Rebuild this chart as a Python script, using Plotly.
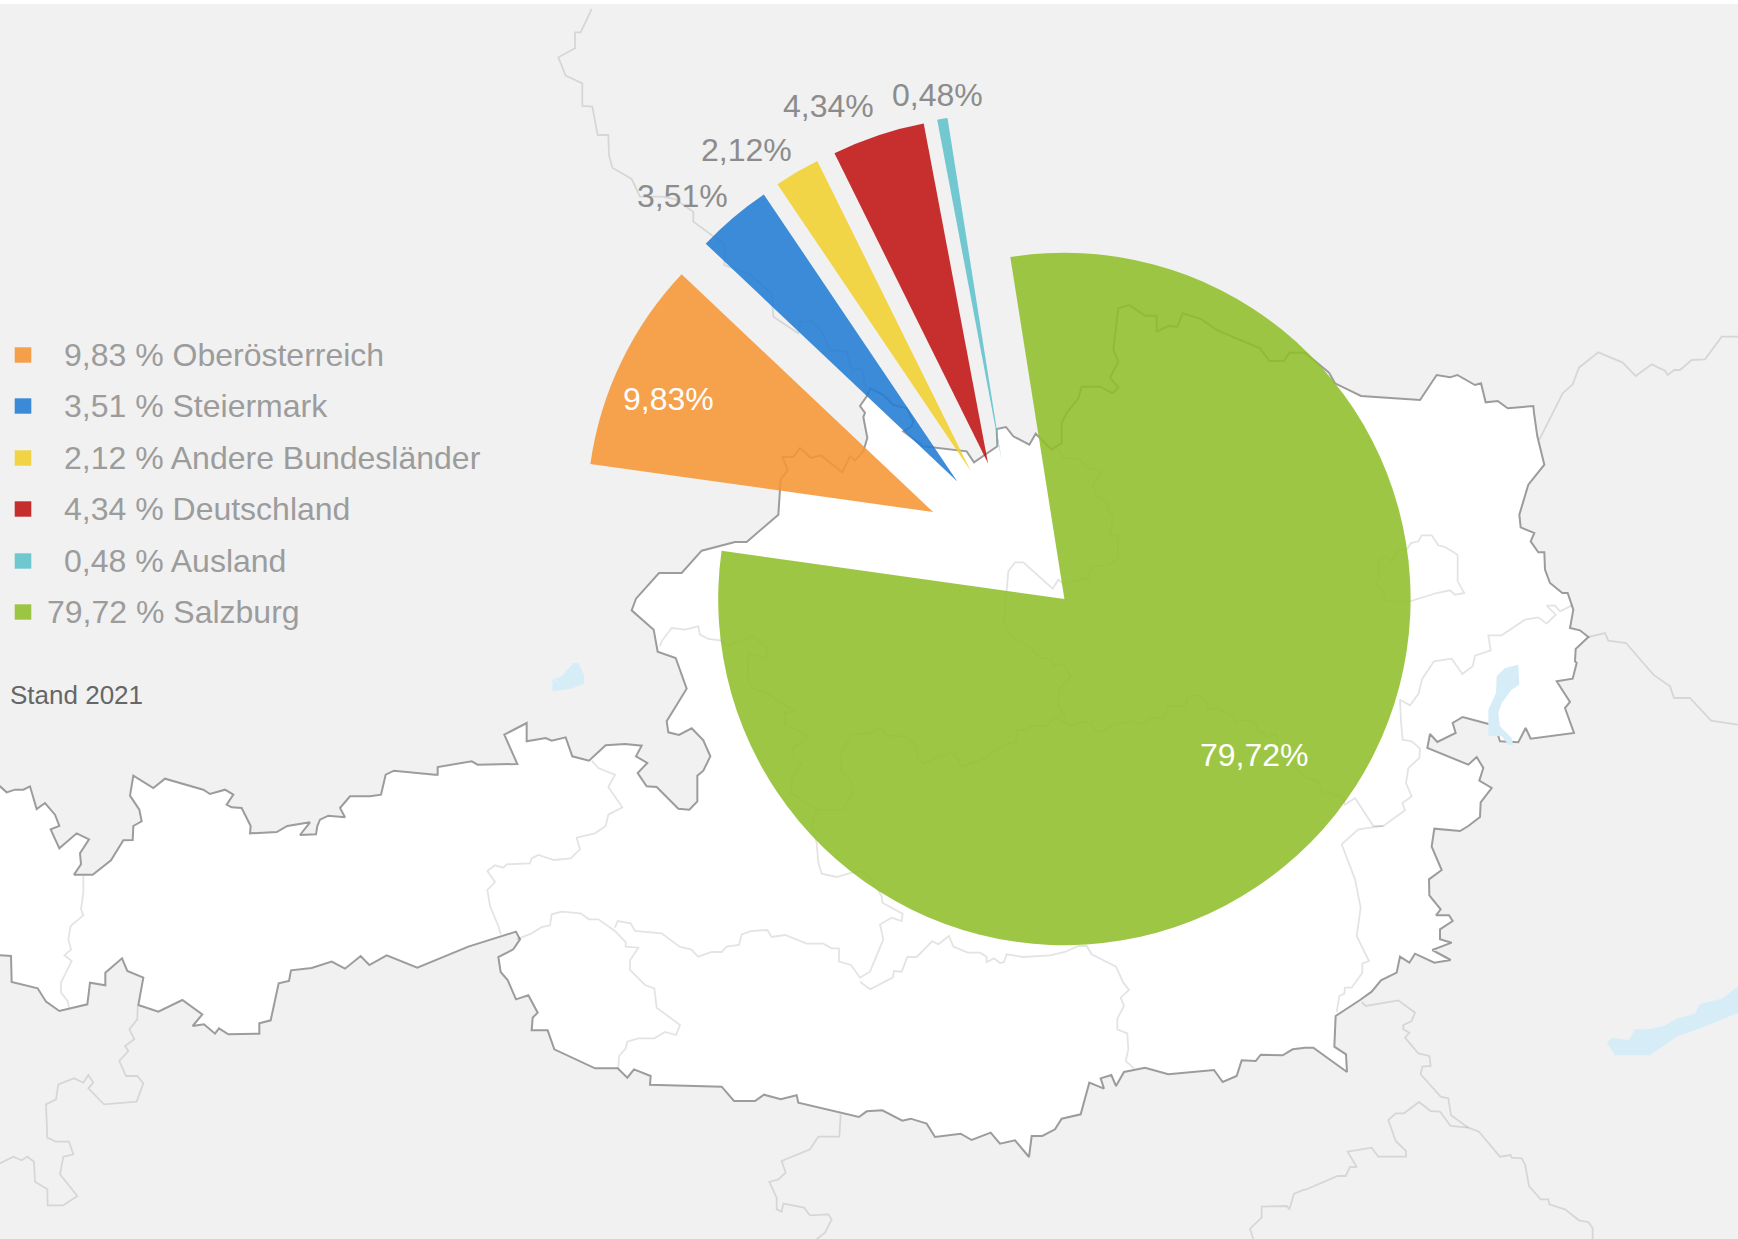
import plotly.graph_objects as go

# ---------- chart data ----------
CATEGORIES = ["Oberösterreich", "Steiermark", "Andere Bundesländer", "Deutschland", "Ausland", "Salzburg"]
VALUES = [9.83, 3.51, 2.12, 4.34, 0.48, 79.72]
COLORS = ["#f59f4a", "#3b8ad8", "#f0d446", "#c62e2e", "#6fc7d0", "#9dc544"]
PIE_COLORS = ["rgba(246,149,51,0.88)", "rgba(34,124,212,0.88)", "rgba(240,208,46,0.88)",
              "rgba(192,19,19,0.88)", "rgba(94,193,203,0.88)", "rgba(143,190,43,0.88)"]
NOTE = "Stand 2021"

# ---------- layout constants ----------
W, H = 1738, 1239
RADIUS = 346.2
START_ANGLE = 278.0
# centre of every exploded slice, in page pixels
SLICE_CENTRES = [(933.2, 512.1), (957.3, 481.5), (970.9, 471.3), (988.1, 463.6), (1001.6, 460.0), (1064.4, 599.0)]
LABEL_POS = [(668.5, 398.5), (682.5, 195.5), (746, 149.5), (828, 105.5), (937, 94.5), (1254, 755)]
LABEL_COL = ["#ffffff", "#8c8c8c", "#8c8c8c", "#8c8c8c", "#8c8c8c", "#ffffff"]
LEGEND_Y = [355, 406, 458, 509, 561, 612]
LEGEND_X = [62.3, 62.3, 62.3, 62.3, 62.3, 44.6]
FONT = "Liberation Sans"


def T(ox, oy, pts):
    """Map contour points traced on 3x crops -> page pixels."""
    return [(ox + x / 3, oy + y / 3) for x, y in pts]


# ---------- background map contours ----------
OUTLINE = (
    [(-6, 786)]
    + T(0, 413, [(0, 1120), (20, 1138), (45, 1130), (70, 1130), (90, 1120), (110, 1188), (135, 1170), (165, 1205), (178, 1239)])
    + T(0, 826, [(152, 10), (178, 67), (230, 22), (267, 40), (240, 82), (243, 115), (222, 146), (278, 146), (333, 103), (370, 43), (398, 42), (400, 0)])
    + T(0, 413, [(425, 1225), (418, 1190), (390, 1148), (400, 1088), (460, 1125), (495, 1097), (610, 1130), (630, 1143), (675, 1130), (700, 1145), (680, 1175), (695, 1183), (725, 1185), (752, 1239)])
    + T(0, 826, [(750, 22), (830, 18), (862, 0)])
    + T(0, 413, [(930, 1228)])
    + T(0, 826, [(900, 27), (948, 25), (952, 0)])
    + T(0, 413, [(960, 1220), (985, 1208), (1035, 1213), (1020, 1185), (1050, 1150), (1110, 1150), (1143, 1145), (1157, 1085), (1182, 1073), (1305, 1085)])
    + T(435, 413, [(8, 1085), (8, 1062), (110, 1045), (128, 1055), (247, 1053), (208, 965), (275, 930), (275, 985), (332, 975), (350, 983), (392, 973), (412, 1030), (462, 1043), (512, 997), (570, 993), (620, 998), (603, 1030), (637, 1050), (608, 1080), (635, 1120), (665, 1122), (730, 1187), (763, 1190), (787, 1165), (787, 1088), (805, 1073), (826, 1030), (805, 982), (770, 946), (732, 966), (700, 958), (695, 925), (755, 827), (722, 735), (668, 716), (656, 650), (590, 592), (603, 557), (672, 480), (740, 480), (800, 413), (900, 387), (935, 387), (1030, 305), (1037, 200), (1058, 172), (1043, 132), (1075, 132), (1095, 105), (1128, 135), (1157, 127), (1222, 178), (1245, 130), (1260, 142), (1285, 115), (1297, 75), (1285, 12), (1290, 0)])
    + T(435, 0, [(1275, 1218), (1298, 1185)])
    + T(870, 0, [(0, 1165), (40, 1185), (70, 1215), (110, 1225)])
    + T(870, 413, [(130, 25), (125, 40), (100, 55), (160, 100), (290, 115), (312, 148), (382, 100), (380, 48), (408, 42), (430, 70), (478, 95), (497, 62), (545, 110), (575, 90), (575, 30), (590, 0)])
    + T(870, 0, [(625, 1195), (635, 1160), (690, 1160), (728, 1180), (745, 1163), (720, 1133), (745, 1085), (730, 1050), (745, 925), (778, 915), (825, 947), (860, 947), (860, 995), (895, 978), (922, 980), (938, 940), (995, 958), (1040, 990), (1170, 1045), (1198, 1083), (1242, 1083), (1258, 1058), (1305, 1058)])
    + T(1305, 0, [(72, 1118), (90, 1150), (168, 1188), (345, 1200), (395, 1125), (435, 1132), (457, 1125), (510, 1155), (528, 1150), (542, 1207), (578, 1203), (608, 1225), (685, 1218), (687, 1239)])
    + T(1305, 413, [(697, 70), (718, 155), (670, 215), (650, 280), (643, 305), (647, 343), (688, 360), (677, 385), (700, 418), (718, 418), (720, 470), (735, 510), (772, 540), (788, 540), (805, 590), (795, 645), (825, 652), (850, 672), (812, 708), (810, 745), (815, 750), (803, 797), (755, 805), (795, 867), (780, 885), (807, 960), (677, 977), (662, 945), (640, 988), (585, 985), (570, 938), (473, 912), (443, 930), (452, 960), (397, 987), (375, 963), (367, 1005), (490, 1055), (515, 1032), (535, 1065), (523, 1103), (560, 1125), (527, 1168), (525, 1212), (490, 1239)])
    + T(1305, 826, [(465, 15), (388, 8), (380, 62), (410, 132), (372, 160), (373, 208), (407, 250), (393, 268), (432, 268), (443, 285), (405, 310), (405, 340), (440, 350), (382, 372), (437, 402), (388, 410), (330, 383), (313, 410), (285, 392), (275, 440), (228, 463), (200, 497), (165, 522), (92, 570), (88, 662), (123, 685), (126, 738), (25, 665), (0, 665)])
    + T(870, 826, [(1268, 670), (1238, 688), (1172, 686), (1157, 705), (1115, 703), (1100, 750), (1058, 768), (1032, 732), (895, 745), (825, 725), (762, 738), (738, 780), (724, 747), (692, 757), (702, 788), (658, 770), (632, 865), (575, 878), (555, 910), (517, 930), (485, 930), (477, 993), (435, 943), (390, 953), (362, 920), (305, 942), (272, 923), (195, 933), (170, 893), (122, 878), (97, 884), (37, 853), (0, 856)])
    + T(435, 826, [(1295, 856), (1272, 873), (1090, 830), (1085, 808), (1037, 820), (987, 806), (960, 825), (897, 825), (860, 782), (645, 776), (647, 750), (597, 730), (577, 755), (548, 727), (480, 727), (358, 670), (338, 613), (290, 613), (293, 575), (308, 560), (280, 508), (243, 520), (218, 462), (197, 438), (190, 393), (235, 370), (255, 340), (243, 317), (100, 362), (0, 403)])
    + T(0, 826, [(1252, 425), (1160, 388), (1108, 417), (1082, 390), (1035, 428), (995, 407), (935, 426), (873, 433), (867, 465), (836, 472), (812, 583), (778, 592), (778, 623), (685, 625), (657, 607), (645, 623), (612, 595), (578, 600), (607, 565), (547, 522), (475, 557), (415, 537), (430, 455), (382, 435), (366, 397), (316, 440), (316, 478), (270, 470), (262, 535), (178, 555), (138, 527), (113, 487), (35, 468), (33, 390), (0, 387)])
    + [(-6, 955), (-6, 786)]
)

THIN_LINES = [
    # outside Austria
    T(435, 0, [(470, 27), (437, 97), (420, 97), (420, 145), (370, 172), (392, 227), (442, 250), (442, 318), (472, 320), (488, 405), (520, 405), (522, 465), (532, 503), (590, 537), (615, 590), (680, 590), (720, 597), (775, 635), (775, 665), (870, 735), (868, 795), (940, 820), (1010, 880), (1015, 950), (1090, 1000), (1097, 965), (1130, 965), (1160, 995), (1185, 1050), (1235, 1055), (1250, 1110), (1280, 1105), (1295, 1180)]),
    T(1305, 0, [(1299, 1010), (1250, 1010), (1200, 1078), (1160, 1080), (1125, 1110), (1108, 1110), (1088, 1125), (1080, 1112), (1040, 1093), (992, 1128), (952, 1087), (880, 1057), (822, 1103), (803, 1153), (773, 1180), (743, 1239), (703, 1319)]),
    T(1305, 413, [(850, 672), (900, 660), (910, 683), (963, 690), (1045, 785), (1095, 820), (1107, 855), (1155, 855), (1218, 923), (1299, 935)]),
    T(0, 826, [(413, 540), (412, 580), (388, 610), (403, 640), (375, 660), (385, 675), (358, 705), (378, 750), (412, 750), (430, 772), (410, 827), (312, 835), (265, 787), (280, 770), (265, 747), (250, 770), (222, 757), (175, 775), (168, 820), (138, 835), (142, 935), (167, 947), (207, 947), (220, 985), (190, 992), (180, 1045), (232, 1110), (190, 1138), (143, 1138), (142, 1090), (105, 1067), (102, 1007), (82, 992), (65, 1003), (40, 992), (0, 1012)]),
    T(435, 826, [(1217, 865), (1213, 932), (1150, 932), (1125, 970), (1040, 1005), (1052, 1040), (1030, 1060), (1003, 1068), (1025, 1115), (1025, 1150), (1040, 1157), (1045, 1133), (1107, 1145), (1125, 1168), (1180, 1165), (1190, 1180), (1170, 1220), (1145, 1239)]),
    T(1305, 826, [(170, 528), (182, 540), (280, 523), (330, 560), (320, 585), (295, 597), (295, 610), (313, 620), (300, 635), (340, 682), (373, 690), (377, 720), (352, 722), (347, 745), (407, 812), (430, 817), (438, 868), (490, 905), (522, 917), (585, 992), (617, 987), (620, 995), (650, 997), (660, 1015), (672, 1080), (707, 1120), (730, 1120), (733, 1135), (780, 1150), (822, 1183), (850, 1188), (863, 1207), (863, 1239)]),
    T(1305, 826, [(490, 905), (437, 900), (405, 857), (377, 855), (342, 828), (297, 862), (272, 862), (250, 882), (272, 945), (303, 975), (303, 992), (220, 992), (200, 965), (128, 977), (155, 1023), (135, 1023), (122, 1050), (98, 1050), (0, 1092)]),
    T(870, 826, [(1305, 1090), (1272, 1103), (1258, 1150), (1250, 1140), (1175, 1142), (1175, 1175), (1140, 1208), (1150, 1239)]),
    # provinces
    T(0, 826, [(250, 150), (250, 200), (243, 250), (250, 268), (212, 300), (205, 340), (213, 370), (193, 388), (215, 405), (183, 470), (183, 500), (203, 525), (207, 545)]),
    T(1305, 413, [(458, 425), (420, 402), (400, 397), (380, 367), (350, 367), (340, 385), (318, 390), (305, 410), (280, 410), (260, 445), (240, 430), (222, 440), (222, 490), (212, 515), (235, 528), (240, 560), (250, 565), (315, 565), (395, 540), (435, 532), (450, 545), (478, 540), (458, 505), (458, 425)]),
    T(1305, 413, [(800, 578), (765, 595), (750, 578), (725, 578), (752, 605), (725, 632), (700, 613), (660, 620), (590, 667), (550, 667), (557, 712), (510, 728), (503, 760), (472, 783), (440, 737), (387, 745), (352, 797), (340, 843), (315, 877), (285, 860), (288, 925), (293, 980), (320, 985), (345, 1007), (343, 1035), (310, 1065), (303, 1110), (320, 1150), (292, 1170), (300, 1192), (235, 1239)])
    + T(1305, 826, [(160, 10), (110, 55), (150, 160), (167, 245), (155, 330), (192, 405), (172, 412), (172, 440), (140, 485), (120, 485), (118, 503), (103, 510), (95, 558)]),
    T(1305, 413, [(0, 1095), (40, 1105), (50, 1135), (110, 1150), (120, 1175), (150, 1155), (205, 1239), (235, 1239)]),
    T(435, 413, [(470, 1043), (490, 1065), (540, 1085), (520, 1122), (562, 1183), (520, 1205), (512, 1239)])
    + T(435, 826, [(480, 22), (425, 35), (435, 70), (407, 97), (357, 102), (310, 87), (290, 97), (285, 112), (215, 115), (205, 125), (180, 118), (157, 135), (180, 168), (157, 192), (165, 240), (190, 300), (197, 325)]),
    T(435, 826, [(245, 340), (290, 322), (320, 303), (345, 298), (350, 265), (380, 257), (437, 262), (462, 280), (490, 280), (540, 315), (572, 348), (572, 362), (610, 365), (585, 403), (585, 432), (630, 477), (658, 487), (665, 545), (735, 597), (723, 627), (690, 618), (658, 637), (610, 637), (577, 647), (572, 668), (552, 690), (550, 727)]),
    T(435, 826, [(540, 305), (548, 285), (587, 292), (600, 315), (680, 322), (735, 363), (768, 370), (790, 392), (830, 378), (860, 378), (875, 362), (912, 357), (920, 325), (950, 315), (997, 312), (1010, 333), (1050, 327), (1115, 353), (1165, 353), (1190, 367), (1212, 367), (1212, 407), (1248, 417), (1275, 455), (1305, 437), (1345, 340), (1335, 295), (1370, 275), (1400, 285), (1403, 263), (1342, 230), (1340, 210)]),
    T(870, 826, [(0, 490), (68, 455), (72, 435), (95, 437), (112, 393), (140, 393), (187, 345), (205, 355), (237, 330), (250, 362), (293, 380), (330, 380), (350, 392), (350, 408), (372, 397), (390, 411), (402, 408), (410, 385), (460, 393), (540, 388), (585, 378), (625, 360), (650, 360), (665, 385), (738, 422), (760, 470), (777, 492), (752, 515), (762, 540), (742, 578), (742, 610), (772, 622), (775, 670), (767, 705), (792, 727)]),
    T(435, 826, [(1275, 467), (1305, 490)]),
    T(435, 413, [(675, 700), (680, 685), (710, 645), (750, 650), (790, 640), (795, 665), (820, 678), (860, 683), (875, 700), (955, 668), (997, 707), (992, 737), (940, 720), (940, 795), (950, 825), (995, 840), (1080, 897), (1050, 897), (1050, 933), (1115, 965), (1110, 985), (1075, 1000), (1075, 1035), (1100, 1053), (1070, 1100), (1068, 1140), (1145, 1190), (1225, 1190), (1250, 1145), (1250, 1105), (1220, 1075), (1215, 1030), (1250, 965), (1305, 960)])
    + T(870, 413, [(35, 945), (50, 968), (105, 970), (140, 1000), (145, 1040), (158, 1052), (240, 1020), (258, 1030), (275, 1062), (345, 1035), (370, 1015), (415, 990), (437, 988), (442, 950), (470, 952), (480, 940), (530, 938), (555, 912), (590, 930), (603, 938), (645, 925), (665, 933), (675, 955), (700, 955), (735, 932), (760, 932), (785, 920), (800, 932), (825, 930), (840, 912), (880, 918), (895, 880), (945, 878), (955, 848), (985, 848), (1005, 865), (1015, 890), (1040, 883), (1090, 910), (1097, 930), (1115, 920), (1155, 928), (1165, 955), (1185, 960), (1187, 972), (1220, 963), (1220, 990), (1250, 1030), (1305, 1095)]),
    T(435, 413, [(1145, 1190), (1130, 1239)])
    + T(435, 826, [(1145, 50), (1150, 110), (1160, 143), (1205, 153), (1250, 140), (1285, 135), (1315, 170), (1340, 210)]),
    T(870, 413, [(565, 110), (580, 133), (630, 140), (655, 165), (697, 175), (668, 215), (680, 250), (713, 268), (715, 295), (730, 305), (720, 365), (745, 370), (745, 435), (715, 458), (665, 458), (655, 495), (580, 512), (565, 500), (548, 527), (460, 448), (435, 448), (415, 475), (402, 625), (420, 668), (470, 695), (510, 733), (545, 740), (553, 760), (580, 755), (603, 790), (570, 825), (563, 870), (590, 925)]),
]

LAKES = [
    T(435, 413, [(415, 750), (430, 750), (447, 785), (447, 812), (405, 828), (352, 835), (352, 798), (372, 810), (358, 797), (380, 790)]),
    T(1305, 413, [(600, 765), (640, 755), (643, 815), (620, 830), (590, 870), (580, 900), (585, 940), (620, 975), (625, 997), (610, 995), (590, 970), (550, 968), (550, 890), (573, 840), (575, 790)]),
    T(1305, 826, [(905, 650), (920, 635), (972, 642), (990, 610), (1030, 610), (1080, 598), (1115, 578), (1170, 563), (1185, 533), (1250, 518), (1305, 476), (1305, 558), (1190, 605), (1115, 632), (1035, 688), (930, 688)]),
]


def xy(pts):
    return [p[0] for p in pts], [p[1] for p in pts]


def joined(lines):
    xs, ys = [], []
    for line in lines:
        a, b = xy(line)
        xs += a + [None]
        ys += b + [None]
    return xs, ys


fig = go.Figure()

# Austria (white with grey border)
x, y = xy(OUTLINE)
fig.add_trace(go.Scatter(x=x, y=y, mode="lines", fill="toself", fillcolor="#ffffff",
                         line=dict(color="#9c9c9c", width=2), hoverinfo="skip", showlegend=False))
# thin borders
x, y = joined(THIN_LINES)
fig.add_trace(go.Scatter(x=x, y=y, mode="lines", line=dict(color="rgba(0,0,0,0.11)", width=1.8),
                         hoverinfo="skip", showlegend=False))
# lakes
for lake in LAKES:
    x, y = xy(lake + lake[:1])
    fig.add_trace(go.Scatter(x=x, y=y, mode="lines", fill="toself", fillcolor="#d6edf8",
                             line=dict(width=0), hoverinfo="skip", showlegend=False))

# Slices: each exploded slice is one pie wedge with its own centre
TOTAL = sum(VALUES)
angle = START_ANGLE
for name, val, col, (cx, cy) in zip(CATEGORIES, VALUES, PIE_COLORS, SLICE_CENTRES):
    rot = angle if angle <= 360 else angle - 360
    if rot > 180:
        rot -= 360
    fig.add_trace(go.Pie(
        labels=[name, ""], values=[val, TOTAL - val], sort=False, direction="clockwise", rotation=rot,
        marker=dict(colors=[col, "rgba(0,0,0,0)"], line=dict(width=0)),
        textinfo="none", hoverinfo="label+percent", showlegend=False,
        domain=dict(x=[(cx - RADIUS) / W, (cx + RADIUS) / W], y=[1 - (cy + RADIUS) / H, 1 - (cy - RADIUS) / H]),
    ))
    angle += val / TOTAL * 360

annotations = []
for val, (lx, ly), lc in zip(VALUES, LABEL_POS, LABEL_COL):
    annotations.append(dict(x=lx, y=ly, xref="x", yref="y", showarrow=False, xanchor="center", yanchor="middle",
                            text=f"{val:.2f}".replace(".", ",") + "%", font=dict(family=FONT, size=32, color=lc)))

shapes = [dict(type="rect", layer="below", xref="x", yref="y", x0=0, x1=W, y0=4, y1=H,
               fillcolor="#f1f1f1", line=dict(width=0))]
for name, val, col, ly, lx in zip(CATEGORIES, VALUES, COLORS, LEGEND_Y, LEGEND_X):
    shapes.append(dict(type="rect", xref="x", yref="y", x0=14.7, x1=31.3, y0=ly - 7.7, y1=ly + 7.7,
                       fillcolor=col, line=dict(width=0)))
    annotations.append(dict(x=lx, y=ly, xref="x", yref="y", showarrow=False, xanchor="left", yanchor="middle",
                            text=f"{val:.2f}".replace(".", ",") + " % " + name,
                            font=dict(family=FONT, size=32, color="#9c9c9c")))
annotations.append(dict(x=7.5, y=695, xref="x", yref="y", showarrow=False, xanchor="left", yanchor="middle",
                        text=NOTE, font=dict(family=FONT, size=26, color="#666666")))

fig.update_layout(
    width=W, height=H, autosize=False, margin=dict(l=0, r=0, t=0, b=0, pad=0),
    paper_bgcolor="#ffffff", plot_bgcolor="rgba(0,0,0,0)", showlegend=False,
    xaxis=dict(range=[0, W], visible=False, fixedrange=True),
    yaxis=dict(range=[H, 0], visible=False, fixedrange=True),
    shapes=shapes, annotations=annotations, font=dict(family=FONT),
)
fig.write_html("out.html", config=dict(displayModeBar=False),
               post_script="document.body.style.margin='0';document.body.style.overflow='hidden';")
